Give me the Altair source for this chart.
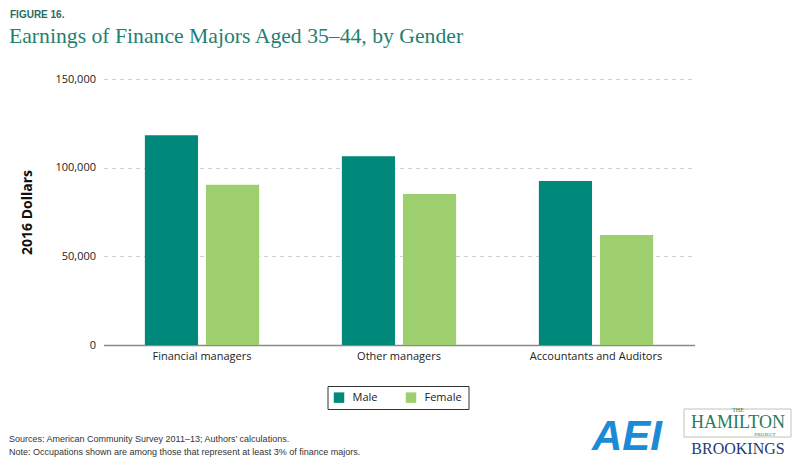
import altair as alt
import pandas as pd

categories = ["Financial managers", "Other managers", "Accountants and Auditors"]
genders = ["Male", "Female"]
male = [118300, 106500, 92500]
female = [90400, 85200, 62000]
colors = ["#00897a", "#9ecf6f"]

rows = []
for c, m, f in zip(categories, male, female):
    rows.append({"occupation": c, "gender": "Male", "earnings": m})
    rows.append({"occupation": c, "gender": "Female", "earnings": f})
df = pd.DataFrame(rows)

W, H = 591, 266
PL, PT = 95.5, 71

bars = alt.Chart(df).mark_bar().encode(
    x=alt.X("occupation:N", sort=categories, title=None,
            scale=alt.Scale(paddingInner=0.42, paddingOuter=0.21),
            axis=alt.Axis(labelAngle=0, ticks=False, domainColor="#8a8a8a", domainWidth=1.5,
                          labelFont="Open Sans", labelFontSize=11, labelColor="#222",
                          labelPadding=5)),
    xOffset=alt.XOffset("gender:N", sort=genders, scale=alt.Scale(paddingInner=0.13, paddingOuter=0)),
    y=alt.Y("earnings:Q", title="2016 Dollars",
            scale=alt.Scale(domain=[0, 150000]),
            axis=alt.Axis(values=[0, 50000, 100000, 150000], format=",.0f", domain=False, ticks=False,
                          gridDash=[4, 4], gridColor="#cfcfcf", labelFont="Open Sans",
                          labelFontSize=11, labelColor="#222", labelPadding=8,
                          titleFont="Open Sans", titleFontSize=14, titleFontWeight="bold",
                          titleColor="#111", titlePadding=20)),
    color=alt.Color("gender:N", sort=genders, scale=alt.Scale(domain=genders, range=colors),
                    legend=alt.Legend(title=None, orient="none", legendX=224, legendY=307,
                                      direction="horizontal", symbolType="square", symbolSize=110,
                                      symbolStrokeWidth=0, labelFont="Open Sans", labelFontSize=11,
                                      labelColor="#222", strokeColor="#333", padding=6,
                                      columnPadding=28, labelOffset=8)),
)

one = pd.DataFrame({"a": [0]})

def txt(text, x, y, size, font, color, weight="normal", style="normal", align="left"):
    return alt.Chart(one).mark_text(text=text, align=align, baseline="alphabetic", fontSize=size,
                                    font=font, color=color, fontWeight=weight, fontStyle=style).encode(
        x=alt.value(x - 8 - PL), y=alt.value(y - 8 - PT))

layers = [
    bars,
    txt("FIGURE 16.", 10, 18, 10, "Liberation Sans", "#2b6a62", weight="bold"),
    txt("Earnings of Finance Majors Aged 35\u201344, by Gender", 9, 43, 21.7, "Liberation Serif", "#1f8070"),
    txt("Sources: American Community Survey 2011\u201313; Authors\u2019 calculations.", 9, 442, 9, "Liberation Sans", "#333"),
    txt("Note: Occupations shown are among those that represent at least 3% of finance majors.", 9, 455, 9, "Liberation Sans", "#333"),
    txt("AEI", 627, 450, 42, "Liberation Sans", "#1c8bd5", weight="bold", style="italic", align="center"),
    alt.Chart(one).mark_rect(fill="white", stroke="#b9c9b0", strokeWidth=1).encode(
        x=alt.value(684 - 8 - PL), x2=alt.value(791 - 8 - PL),
        y=alt.value(409 - 8 - PT), y2=alt.value(437 - 8 - PT)),
    txt("THE", 738, 412, 6, "Liberation Serif", "#2a7a5c", align="center"),
    txt("HAMILTON", 738, 428, 18, "Liberation Serif", "#2a7a5c", align="center"),
    txt("PROJECT", 765, 435.5, 5, "Liberation Serif", "#2a7a5c", align="center"),
    txt("BROOKINGS", 738, 454, 16, "Liberation Serif", "#253a73", align="center"),
]

chart = alt.layer(*layers).properties(
    width=W, height=H,
    padding={"left": PL, "top": PT, "right": 784 - PL - W, "bottom": 457 - PT - H},
    autosize=alt.AutoSizeParams(type="none"),
).configure_view(stroke=None)

chart.save("out.html", embed_options={"renderer": "svg", "actions": False})
